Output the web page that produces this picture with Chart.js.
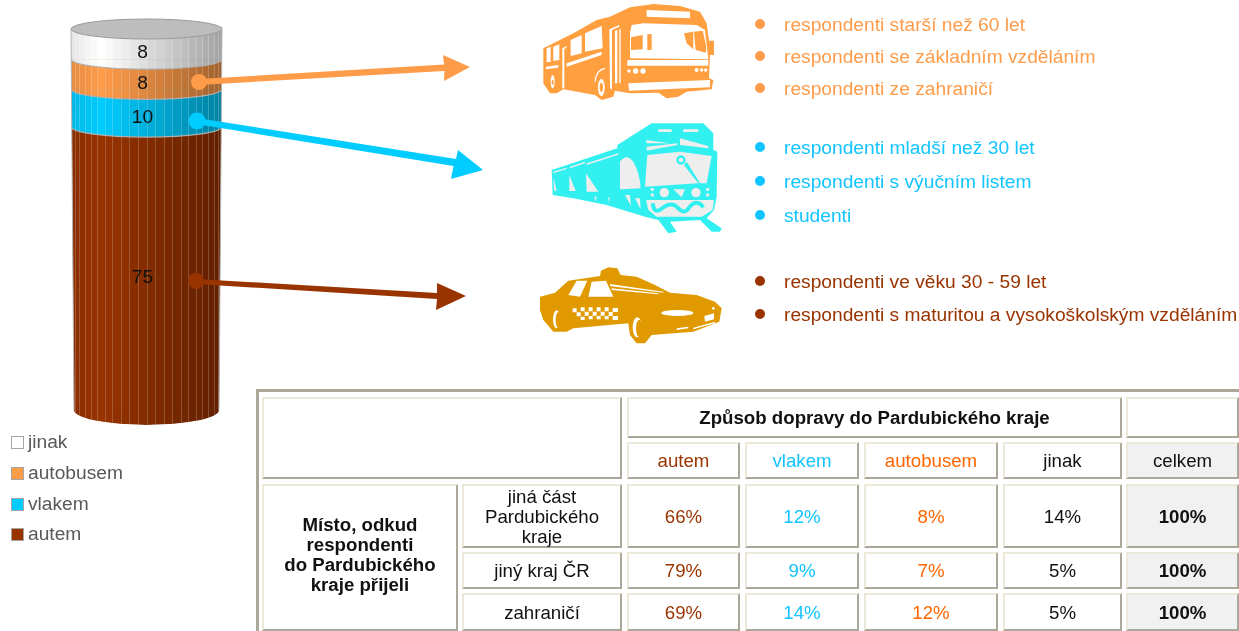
<!DOCTYPE html>
<html><head><meta charset="utf-8">
<script src="https://cdn.jsdelivr.net/npm/chart.js@4"></script>
<style>
html,body{margin:0;padding:0;background:#fff;width:1239px;height:631px;overflow:hidden;font-family:"Liberation Sans",Arial,sans-serif}
#c{position:absolute;left:0;top:0}
svg{position:absolute;left:0;top:0}
.abs{position:absolute;white-space:nowrap}
.leg{color:#595959;font-size:19.2px;line-height:20px}
.sw{position:absolute;width:11px;height:11px;border:1px solid #a6a6a6}
.note{font-size:19.2px;line-height:22px}
.bul{position:absolute;width:10px;height:10px;border-radius:50%}
.cell{position:absolute;box-sizing:border-box;border-style:solid;border-width:2px;border-color:#ECE9D8 #ACA899 #ACA899 #ECE9D8;
 display:flex;align-items:center;justify-content:center;text-align:center;font-size:18.67px;line-height:20px;color:#111}
.b{font-weight:bold}
.grey{background:#F1F1F1}
.side{padding-bottom:5px}
.body{padding-top:1px}
#frame{position:absolute;left:256px;top:389px;width:990px;height:260px;border:3px solid #ACA899;box-sizing:border-box}
</style></head><body>
<canvas id="c" width="1239" height="631"></canvas>
<svg width="1239" height="631" viewBox="0 0 1239 631">
 <!-- arrows -->
 <g fill="#FF9C4A"><circle cx="199" cy="82" r="8"/><path d="M199 79 L444 64.5 L443 55 L470 67 L444 81 L444.5 71 L199 85Z"/></g>
 <g fill="#00CCFF"><circle cx="197" cy="121" r="8.5"/><path d="M197 118 L456 159 L458 150 L483 170 L451 179 L453.500 166 L196 124Z"/></g>
 <g fill="#993300"><circle cx="196" cy="281" r="8"/><path d="M196 279 L437 293 L437 283 L466 296 L436 310 L437 299 L196 284Z"/></g>
 <!-- bus -->
 <g transform="translate(530,0) scale(.3333)">
  <path fill="#FF9F40" d="M40 145L130 100L200 60L240 50L300 22L370 12L450 18L510 35L530 70L537 122L552 122L552 165L540 165L537 235L550 240L545 268L470 275L445 290L410 295L385 278L300 280L255 272L250 290L215 300L195 285L100 268L80 280L60 280L40 250Z"/>
  <path fill="#fff" d="M350 30L480 35L480 55L350 50ZM305 75L340 70L500 75L525 90L535 178L300 175L300 100ZM292 180L535 180L535 197L292 197ZM295 250L540 240L540 262L297 272ZM238 88L268 75L268 80L246 90L246 268L240 265ZM255 92L262 90L262 250L255 250ZM268 88L272 86L272 250L268 250ZM165 100L215 78L218 145L165 155ZM122 120L155 105L155 160L122 168ZM50 145L62 140L62 185L50 187ZM70 140L88 133L88 180L70 183ZM110 190L215 155L215 165L110 200ZM48 200L85 195L85 203L48 208ZM97 145L110 138L110 142L103 148L103 265L97 265Z"/>
  <path fill="#FF9F40" d="M303 112L338 105L338 148L303 150ZM352 103L365 102L365 150L352 150ZM462 100L490 95L490 148L470 130ZM492 95L518 92L528 135L528 158L497 150Z"/>
  <g fill="#fff"><circle cx="297" cy="213" r="5"/><circle cx="317" cy="213" r="8"/><circle cx="339" cy="213" r="8"/><circle cx="500" cy="210" r="6"/><circle cx="515" cy="210" r="5"/><circle cx="527" cy="210" r="5"/>
  <ellipse cx="214" cy="262" rx="10" ry="26"/><ellipse cx="68" cy="245" rx="6" ry="20"/></g>
  <path fill="none" stroke="#fff" stroke-width="4" d="M195 245Q198 210 225 205"/>
  <ellipse cx="214" cy="262" rx="5" ry="14" fill="#FF9F40"/><ellipse cx="68" cy="247" rx="3" ry="8" fill="#FF9F40"/>
 </g>
 <!-- train -->
 <g transform="translate(530,120) scale(.3333)">
  <path fill="#33F0F0" d="M65 150L262 85L262 75L365 10L520 10L550 40L550 90L562 95L560 230L552 270L530 295L575 325L570 335L545 335L510 300L420 305L440 335L415 340L385 300L345 290L230 255L130 235L68 225Z"/>
  <path fill="#EEEEEE" d="M352 105L450 95L545 108L530 190L510 190L470 125L462 135L505 190L345 200ZM348 60L420 70L350 70ZM350 92L442 75L442 70L350 80ZM450 55L535 78L535 85L450 75ZM385 28L425 28L425 36L385 36ZM460 28L505 28L505 36L460 36ZM270 125Q290 98 310 125Q330 160 332 205L270 208ZM168 160L205 215L170 215ZM118 165L137 213L118 213ZM70 170L80 212L72 212ZM70 155L110 143L110 147L70 160ZM120 140L165 125L165 130L120 145ZM170 130L265 100L265 104L170 135ZM430 208L465 208L455 232ZM193 230L200 230L197 245ZM235 232L240 232L237 248ZM285 225L300 225L303 258ZM315 235L330 235L332 268ZM348 240L552 240L548 270L515 290L380 290L355 270Z"/>
  <circle cx="453" cy="120" r="14" fill="#33F0F0"/><circle cx="453" cy="120" r="7" fill="#EEEEEE"/>
  <g fill="#EEEEEE"><circle cx="403" cy="218" r="14"/><circle cx="498" cy="218" r="14"/><circle cx="367" cy="208" r="5"/><circle cx="367" cy="225" r="5"/><circle cx="533" cy="208" r="5"/><circle cx="533" cy="225" r="5"/></g>
  <path fill="none" stroke="#33F0F0" stroke-width="12" d="M368 250Q372 282 392 268Q425 240 445 265Q462 285 478 262Q500 235 520 262"/>
 </g>
 <!-- taxi -->
 <g transform="translate(530,260) scale(.3333)">
  <path fill="#E09A00" d="M30 110L75 98L115 62L210 48L213 32L235 22L262 25L272 45L320 50L375 75L420 98L500 105L555 125L575 145L568 185L490 215L365 225L345 250L320 250L300 225L295 190L130 205L110 215L70 215L40 180L30 150Z"/>
  <path fill="#fff" d="M115 105L140 62L172 62L150 110ZM175 110L185 65L228 62L250 110ZM240 72L400 95L400 98L240 78ZM245 85L385 100L385 103L245 90ZM523 168L552 160L552 178L525 185ZM440 205L475 200L475 205L440 210ZM490 203L555 185L555 190L490 208Z"/>
  <ellipse cx="442" cy="159" rx="48" ry="9" fill="#fff"/>
  <ellipse cx="322" cy="202" rx="14" ry="30" fill="#fff"/><ellipse cx="328" cy="205" rx="10" ry="26" fill="#E09A00"/>
  <ellipse cx="80" cy="178" rx="11" ry="27" fill="#fff"/><ellipse cx="85" cy="180" rx="8" ry="24" fill="#E09A00"/>
  <circle cx="550" cy="145" r="4" fill="#fff"/>
  <path fill="#fff" d="M128 145h12v12h-12zM152 142h12v12h-12zM176 142h12v12h-12zM200 142h12v12h-12zM224 142h12v12h-12zM248 144h16v12h-16zM140 157h12v12h-12zM164 155h12v12h-12zM188 155h12v12h-12zM212 155h12v12h-12zM236 156h12v12h-12zM152 170h12v10h-12zM176 168h12v10h-12zM200 168h12v10h-12zM224 168h12v10h-12zM248 168h16v12h-16z"/>
 </g>
</svg>
<div id="frame"></div>
<div id="dom"></div>
<script>
// ---- data ----
const modes = ['jinak', 'autobusem', 'vlakem', 'autem'];
const modeShares = [8, 8, 10, 75];
const modeColors = ['#FFFFFF', '#FF9C4A', '#00CCFF', '#993300'];
const capColor = '#BDBDBD';

const busNotes = ['respondenti starší než 60 let', 'respondenti se základním vzděláním', 'respondenti ze zahraničí'];
const trainNotes = ['respondenti mladší než 30 let', 'respondenti s výučním listem', 'studenti'];
const carNotes = ['respondenti ve věku 30 - 59 let', 'respondenti s maturitou a vysokoškolským vzděláním'];

const tableTitle = 'Způsob dopravy do Pardubického kraje';
const tableSide = 'Místo, odkud<br>respondenti<br>do Pardubického<br>kraje přijeli';
const tableCols = ['autem', 'vlakem', 'autobusem', 'jinak', 'celkem'];
const tableColColors = ['#993300', '#12C4FF', '#FF6600', '#111', '#111'];
const tableRows = ['jiná část<br>Pardubického<br>kraje', 'jiný kraj ČR', 'zahraničí'];
const rowAutem = ['66%', '79%', '69%'];
const rowVlakem = ['12%', '9%', '14%'];
const rowAutobusem = ['8%', '7%', '12%'];
const rowJinak = ['14%', '5%', '5%'];
const rowCelkem = ['100%', '100%', '100%'];

// ---- cylinder drawing around the library's stacked bars ----
const RY = 10, RY_BOTTOM = 15;
function silhouette(ctx, a) {
  const top = a.top, bot = a.bottom, cx = (a.left + a.right) / 2, inset = 3;
  ctx.beginPath();
  ctx.moveTo(a.left, top - 2);
  ctx.lineTo(a.right, top - 2);
  ctx.lineTo(a.right - inset, bot);
  ctx.ellipse(cx, bot, (a.right - a.left) / 2 - inset, RY_BOTTOM, 0, 0, Math.PI);
  ctx.closePath();
}
const lower = el => Math.max(el.y, el.base);
const cylinder = {
  id: 'cylinder',
  beforeDatasetsDraw(chart) { const c = chart.ctx; c.save(); silhouette(c, chart.chartArea); c.clip(); },
  beforeDatasetDraw(chart, args) {
    const c = chart.ctx, el = args.meta.data[0];
    const last = args.index === chart.data.datasets.length - 1;
    c.save();
    c.fillStyle = modeColors[args.index];
    c.beginPath();
    c.ellipse(el.x, lower(el), el.width / 2, last ? RY_BOTTOM : RY, 0, 0, Math.PI);
    c.fill();
    c.restore();
  },
  afterDatasetsDraw(chart) {
    const c = chart.ctx, a = chart.chartArea, cx = (a.left + a.right) / 2, r = (a.right - a.left) / 2;
    const N = 22;
    const facet = t => cx - r * (.5 * Math.cos(Math.PI * t) + .5 * (1 - 2 * t));
    for (let i = 0; i < N; i++) {
      const x0 = facet(i / N), x1 = facet((i + 1) / N);
      const t = ((x0 + x1) / 2 - a.left) / (2 * r);
      let alpha = t < .2 ? (.2 - t) * .5 : (t - .2) * .46;
      c.fillStyle = 'rgba(0,0,0,' + alpha.toFixed(3) + ')';
      c.fillRect(x0, a.top - 5, x1 - x0, a.bottom - a.top + 30);
      if (i > 0) { c.fillStyle = 'rgba(255,255,255,.2)'; c.fillRect(Math.round(x0), a.top - 5, 1, a.bottom - a.top + 30); }
    }
    c.restore();
    // band edges
    c.strokeStyle = '#AFAFAF'; c.lineWidth = 1.2;
    chart.data.datasets.forEach((d, i) => {
      if (i === chart.data.datasets.length - 1) return;
      const el = chart.getDatasetMeta(i).data[0];
      c.beginPath(); c.ellipse(el.x, lower(el), el.width / 2 - .5, RY, 0, 0, Math.PI); c.stroke();
    });
    // top cap
    c.fillStyle = capColor; c.strokeStyle = '#9A9A9A'; c.lineWidth = 1;
    c.beginPath(); c.ellipse(cx, a.top, r, RY, 0, 0, Math.PI * 2); c.fill(); c.stroke();
    // sides
    c.strokeStyle = '#B4B4B4';
    c.beginPath(); c.moveTo(a.left, a.top); c.lineTo(a.left + 3, a.bottom); c.moveTo(a.right, a.top); c.lineTo(a.right - 3, a.bottom); c.stroke();
    // value labels
    c.fillStyle = '#111'; c.font = '19.2px "Liberation Sans", Arial, sans-serif'; c.textAlign = 'center'; c.textBaseline = 'middle';
    chart.data.datasets.forEach((d, i) => {
      const el = chart.getDatasetMeta(i).data[0];
      c.fillText(String(d.data[0]), el.x - 4, (el.y + el.base) / 2 + RY - 1);
    });
  }
};

new Chart(document.getElementById('c'), {
  type: 'bar',
  data: {
    labels: ['Způsob dopravy'],
    datasets: modes.map((m, i) => ({
      label: m, data: [modeShares[i]], backgroundColor: modeColors[i],
      stack: 's', barPercentage: 1, categoryPercentage: 1, borderWidth: 0, clip: false
    }))
  },
  plugins: [cylinder],
  options: {
    responsive: false, animation: false,
    layout: { padding: { left: 71, right: 1239 - 222, top: 29, bottom: 631 - 410 } },
    plugins: { legend: { display: false }, tooltip: { enabled: false } },
    scales: {
      x: { display: false, stacked: true },
      y: { display: false, stacked: true, reverse: true, min: 0, max: 101 }
    }
  }
});

// ---- text layer ----
const dom = document.getElementById('dom');
function add(cls, css, html) {
  const d = document.createElement('div');
  d.className = cls; d.style.cssText = css; if (html !== undefined) d.innerHTML = html;
  dom.appendChild(d); return d;
}
// legend
const legendY = [442, 473, 504, 534];
modes.forEach((m, i) => {
  add('sw', `left:11px;top:${legendY[i] - 6}px;background:${modeColors[i]}`);
  add('abs leg', `left:28px;top:${legendY[i] - 10}px`, m);
});
// notes
function notes(list, ys, col) {
  list.forEach((t, i) => {
    add('bul', `left:755px;top:${ys[i] - 6}px;background:${col}`);
    add('abs note', `left:784px;top:${ys[i] - 11}px;color:${col}`, t);
  });
}
notes(busNotes, [25, 57, 89], '#FF9C4A');
notes(trainNotes, [148, 182, 216], '#12C4FF');
notes(carNotes, [282, 315], '#993300');

// table
const colX = [[627, 740], [745, 859], [864, 998], [1003, 1122], [1126, 1239]];
const rowY = [[484, 548], [552, 589], [593, 631]];
function cell(x0, x1, y0, y1, html, cls, color) {
  add('cell ' + (cls || ''), `left:${x0}px;top:${y0}px;width:${x1 - x0}px;height:${y1 - y0}px;` + (color ? `color:${color}` : ''), html);
}
cell(262, 622, 397, 479, '');
cell(627, 1122, 397, 438, tableTitle, 'b');
cell(1126, 1239, 397, 438, '');
tableCols.forEach((t, i) => cell(colX[i][0], colX[i][1], 442, 479, t, i === 4 ? 'grey' : '', tableColColors[i]));
cell(262, 458, 484, 631, tableSide, 'b side');
const cols = [rowAutem, rowVlakem, rowAutobusem, rowJinak, rowCelkem];
tableRows.forEach((t, r) => {
  cell(462, 622, rowY[r][0], rowY[r][1], t, 'body');
  cols.forEach((col, i) => cell(colX[i][0], colX[i][1], rowY[r][0], rowY[r][1], col[r], (i === 4 ? 'grey b ' : '') + 'body', tableColColors[i]));
});
</script>
</body></html>
